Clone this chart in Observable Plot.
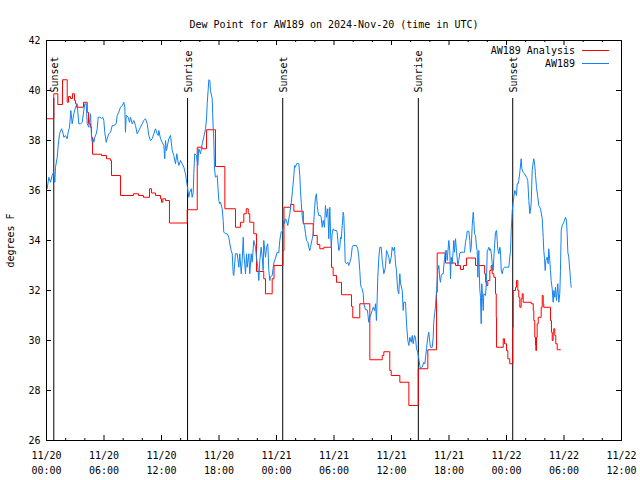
<!DOCTYPE html>
<html>
<head>
<meta charset="utf-8">
<script src="https://cdn.jsdelivr.net/npm/d3@7"></script>
<script src="https://cdn.jsdelivr.net/npm/@observablehq/plot@0.6"></script>
<style>
  html, body { margin: 0; padding: 0; background: white; }
</style>
</head>
<body>
<div id="chart"></div>
<script>
// ---------- data (hours after 2024-11-20 00:00 UTC) ----------
const titleText = "Dew Point for AW189 on 2024-Nov-20 (time in UTC)";
const yLabel = "degrees F";
const seriesNames = ["AW189 Analysis", "AW189"];
const seriesColors = ["#ff0000", "#1482f0"];

const analysisHours = [0.00,0.76,1.18,1.67,2.16,2.30,2.50,2.71,2.92,3.03,3.13,3.86,4.25,4.38,4.59,4.70,4.80,5.74,6.26,6.68,6.78,7.72,9.08,9.60,10.12,10.75,10.96,11.37,11.90,12.00,12.14,12.42,12.83,14.68,15.73,16.25,16.70,17.63,18.61,19.72,20.24,20.59,20.84,21.05,21.21,21.63,21.91,22.67,22.85,23.55,23.74,24.68,24.78,25.46,25.81,26.79,27.83,28.25,28.52,28.94,29.74,29.91,30.26,30.78,31.83,31.96,32.69,33.74,35.03,35.20,35.82,35.97,36.87,37.81,38.79,39.79,40.70,40.77,41.63,42.68,43.20,43.51,43.83,44.77,45.72,45.82,45.92,46.05,46.26,46.40,46.51,46.68,46.85,46.93,46.96,47.66,47.79,48.00,48.14,48.34,48.66,48.70,48.94,49.04,49.18,49.28,49.39,49.53,49.64,49.74,50.58,50.79,50.85,50.95,51.03,51.06,51.13,51.20,51.31,51.62,51.73,51.83,51.89,52.59,52.69,52.77,52.87,52.93,53.04,53.14,53.29,53.63];
const analysisValues = [38.87,39.87,39.44,40.43,39.53,39.76,39.68,39.87,39.60,39.47,39.33,39.53,39.13,38.67,38.53,38.13,37.45,37.40,37.27,37.20,36.60,35.80,35.87,35.80,35.73,36.07,35.90,35.80,35.67,35.53,35.67,35.60,34.70,35.23,37.73,37.67,38.43,36.96,35.27,34.53,34.73,35.07,35.27,35.07,34.73,34.27,32.76,32.47,31.87,32.47,33.00,33.60,35.33,35.44,35.17,34.67,34.20,33.84,33.67,33.73,32.93,32.60,32.33,31.83,31.36,30.91,31.47,29.23,29.40,29.55,28.80,28.60,28.33,27.40,28.87,29.63,31.93,33.50,33.10,33.00,32.84,33.00,33.30,33.00,32.67,32.33,32.20,32.40,32.80,33.00,32.67,32.53,31.87,30.93,29.73,30.07,29.87,29.60,29.27,29.07,30.53,32.00,32.13,32.40,32.00,31.73,31.33,31.67,31.87,31.53,31.47,31.20,30.80,30.13,29.80,29.60,30.13,30.67,30.93,31.33,31.80,31.47,31.33,30.80,30.33,30.00,30.33,30.47,30.20,29.87,29.63,29.63];

const stationHours = [0.07,0.24,0.42,0.59,0.76,0.87,0.94,1.12,1.22,1.36,1.57,1.70,1.81,1.98,2.16,2.26,2.40,2.54,2.68,2.85,3.03,3.20,3.37,3.55,3.73,3.89,4.00,4.14,4.25,4.41,4.59,4.70,4.77,4.87,4.94,5.04,5.19,5.29,5.39,5.53,5.74,5.87,5.98,6.08,6.23,6.33,6.50,6.68,6.86,7.02,7.27,7.38,7.54,7.72,7.90,8.07,8.17,8.24,8.32,8.53,8.66,8.77,8.94,9.11,9.29,9.46,9.63,9.81,9.99,10.15,10.33,10.51,10.67,10.85,11.03,11.20,11.37,11.55,11.66,11.72,11.90,12.07,12.24,12.34,12.42,12.52,12.76,12.94,13.12,13.28,13.46,13.60,13.70,13.81,13.98,14.16,14.33,14.50,14.68,14.85,14.95,15.10,15.20,15.31,15.37,15.47,15.65,15.79,15.89,16.07,16.25,16.41,16.59,16.70,16.77,16.94,17.04,17.11,17.29,17.39,17.46,17.53,17.63,17.81,17.98,18.08,18.16,18.33,18.44,18.50,18.68,18.86,19.02,19.13,19.27,19.38,19.48,19.54,19.72,19.90,20.07,20.17,20.32,20.42,20.53,20.59,20.77,20.87,20.94,21.11,21.21,21.36,21.46,21.63,21.81,21.91,22.05,22.15,22.26,22.40,22.51,22.61,22.67,22.85,22.96,23.09,23.20,23.30,23.37,23.55,23.72,23.90,24.07,24.24,24.34,24.49,24.59,24.70,24.76,24.83,24.94,25.04,25.18,25.28,25.39,25.53,25.67,25.81,25.88,25.98,26.09,26.22,26.33,26.43,26.50,26.58,26.68,26.79,26.92,27.03,27.13,27.27,27.37,27.48,27.55,27.62,27.73,27.83,27.89,27.97,28.07,28.17,28.25,28.31,28.41,28.59,28.66,28.77,28.87,29.01,29.11,29.22,29.35,29.46,29.56,29.63,29.71,29.81,29.92,30.05,30.26,30.33,30.40,30.50,30.61,30.68,30.75,30.86,30.96,31.02,31.10,31.17,31.30,31.44,31.54,31.65,31.79,31.90,32.00,32.35,32.48,32.59,32.69,32.77,32.84,32.94,33.05,33.11,33.29,33.46,33.53,33.63,33.74,33.88,33.99,34.09,34.23,34.33,34.43,34.51,34.57,34.68,34.78,34.93,35.03,35.20,35.37,35.48,35.61,35.72,35.82,35.97,36.07,36.18,36.31,36.42,36.52,36.60,36.66,36.76,36.87,36.94,37.12,37.22,37.28,37.46,37.57,37.70,37.81,37.91,38.06,38.16,38.26,38.40,38.50,38.61,38.74,38.85,38.95,39.03,39.20,39.37,39.48,39.58,39.65,39.79,39.89,40.00,40.07,40.25,40.35,40.41,40.52,40.59,40.70,40.83,40.94,41.04,41.11,41.19,41.29,41.40,41.46,41.53,41.63,41.74,41.81,41.88,41.98,42.08,42.16,42.23,42.33,42.44,42.50,42.57,42.68,42.78,42.92,43.02,43.13,43.27,43.48,43.62,43.72,43.83,43.90,44.07,44.17,44.24,44.32,44.42,44.53,44.59,44.66,44.77,44.87,44.94,45.01,45.11,45.21,45.29,45.36,45.42,45.50,45.57,45.63,45.81,45.91,45.99,46.05,46.15,46.26,46.33,46.40,46.51,46.61,46.68,46.85,46.96,47.03,47.09,47.20,47.30,47.37,47.45,47.55,47.66,47.79,48.00,48.24,48.34,48.42,48.49,48.60,48.70,48.76,48.87,48.94,49.04,49.12,49.22,49.28,49.39,49.53,49.60,49.74,49.88,50.09,50.22,50.33,50.43,50.50,50.58,50.68,50.79,50.85,50.95,51.03,51.13,51.27,51.37,51.55,51.73,51.83,51.89,51.97,52.04,52.10,52.25,52.35,52.41,52.52,52.59,52.66,52.77,52.87,52.94,53.04,53.11,53.22,53.35,53.46,53.56,53.63,53.71,53.81,53.98,54.16,54.26,54.33,54.40,54.50,54.61,54.68,54.75];
const stationValues = [36.07,36.53,36.33,36.6,36.73,36.33,36.93,37.33,37.8,38.27,38.47,38.33,38.13,38.2,38.07,38.33,38.53,39.2,38.67,39.07,39.33,39.47,38.67,38.67,38.73,39.2,39.47,39.47,38.67,38.53,39.07,38.13,37.93,38.07,37.93,38.13,38.27,38.47,38.93,38.93,38.89,38.93,38.8,38.33,37.93,38.07,38.27,38.33,38.6,38.6,38.67,39.0,39.13,39.33,39.4,39.53,39.33,38.33,39.0,38.93,38.73,38.93,38.67,38.8,38.6,38.27,38.4,38.53,38.67,38.8,38.87,38.67,38.2,38.0,38.07,38.27,38.47,38.27,38.2,38.4,38.07,37.93,37.8,37.27,38.0,37.6,38.07,38.2,37.6,37.4,37.07,37.47,37.2,37.0,37.2,37.07,36.93,36.67,36.2,35.73,35.93,36.07,35.73,35.93,36.67,37.47,37.4,37.0,37.67,37.47,37.87,38.13,38.47,38.87,39.47,40.43,40.4,40.0,39.67,38.53,38.0,36.87,36.53,36.6,35.6,35.47,35.53,35.27,34.8,34.33,34.27,34.27,34.13,33.87,33.6,33.47,32.67,32.6,33.47,33.47,32.93,33.47,32.67,33.2,34.13,33.47,32.67,33.47,32.93,33.47,32.67,33.47,33.13,34.0,33.73,33.33,32.93,32.4,33.2,33.73,33.33,32.8,34.0,33.33,33.73,33.87,32.8,32.4,32.55,32.6,33.1,33.3,33.53,33.5,34.0,34.35,34.35,34.5,34.8,34.67,34.87,34.8,34.6,34.87,35.07,35.47,36.0,36.6,37.0,36.93,37.07,37.09,37.07,36.6,36.0,35.53,35.0,34.73,34.6,34.27,34.0,33.93,33.73,33.6,33.73,33.87,34.07,34.27,34.73,35.27,35.73,35.87,35.4,35.2,35.0,35.0,34.93,34.53,34.8,34.53,35.4,34.93,35.27,34.07,35.33,34.47,33.73,34.27,34.47,34.4,34.4,34.33,34.0,33.6,33.73,34.13,34.07,34.6,35.13,35.0,34.13,33.13,33.07,33.13,33.0,33.13,33.33,33.73,33.8,33.8,33.67,33.33,32.8,32.27,32.13,32.07,31.87,31.47,31.23,31.23,31.07,30.73,30.93,31.07,31.2,31.33,31.2,31.47,30.8,31.73,32.53,33.33,33.73,33.73,33.2,32.67,32.93,33.6,33.47,33.33,33.07,33.33,33.73,33.6,33.73,33.07,32.8,32.27,32.0,31.87,32.67,32.3,32.0,31.2,31.53,31.53,30.67,30.0,29.8,30.13,29.93,30.2,29.87,30.2,30.13,29.67,29.53,29.27,29.0,28.87,28.93,29.13,29.07,29.4,29.67,30.13,30.33,29.93,29.73,29.73,30.13,30.73,31.13,31.4,32.0,32.8,33.0,32.47,32.33,32.6,32.67,32.67,33.0,33.27,33.6,33.6,33.2,33.53,34.0,33.6,32.47,33.33,33.07,33.6,34.0,33.53,34.07,33.6,33.0,33.2,33.5,33.53,33.53,33.53,33.93,34.13,34.37,34.37,34.0,33.53,33.73,34.6,35.13,34.8,34.27,34.2,33.73,33.6,32.53,33.6,32.07,31.73,30.67,32.27,31.73,31.2,31.87,31.8,32.4,33.6,33.6,33.73,33.6,33.67,33.53,33.07,32.8,33.33,34.33,34.4,34.0,33.67,33.47,33.73,33.6,32.8,32.67,32.87,32.93,32.93,32.93,33.33,33.6,34.4,35.2,35.53,35.73,36.0,35.93,35.8,36.27,36.27,36.4,36.73,37.27,36.87,36.73,36.67,36.53,36.4,35.6,35.07,35.2,35.53,36.8,37.13,37.27,37.0,36.6,36.13,35.73,35.4,35.27,34.87,34.13,33.6,33.27,32.8,33.2,33.33,33.07,33.67,33.2,32.8,32.4,32.07,31.53,32.0,31.73,32.13,31.6,32.27,31.53,31.87,32.8,34.4,34.6,34.73,34.93,34.8,34.27,33.53,33.33,32.8,32.4,32.13];

const eventHours = [0.76, 14.72, 24.65, 38.80, 48.65];
const eventLabels = ["Sunset", "Sunrise", "Sunset", "Sunrise", "Sunset"];

const yTicks = [26, 28, 30, 32, 34, 36, 38, 40, 42];
const xMajorHours = [0, 6, 12, 18, 24, 30, 36, 42, 48, 54, 60];
const xMinorHours = [2, 4, 8, 10, 14, 16, 20, 22, 26, 28, 32, 34, 38, 40, 44, 46, 50, 52, 56, 58];
const xDomainHours = [0, 60];

// ---------- build tables ----------
const base = Date.UTC(2024, 10, 20);
const toDate = h => new Date(base + h * 3600000);
const analysis = analysisHours.map((h, i) => ({time: toDate(h), value: analysisValues[i]}));
const station = stationHours.map((h, i) => ({time: toDate(h), value: stationValues[i]}));
const events = eventHours.map((h, i) => ({time: toDate(h), label: eventLabels[i]}));
const xMajor = xMajorHours.map(toDate);
const xMinor = xMinorHours.map(toDate);

const W = 640, H = 480, mL = 46, mR = 19, mT = 40, mB = 40;
const fw = W - mL - mR, fh = H - mT - mB;

const chart = Plot.plot({
  width: W, height: H,
  marginLeft: mL, marginRight: mR, marginTop: mT, marginBottom: mB,
  style: {fontFamily: "'DejaVu Sans Mono', monospace", fontSize: "10px", background: "white", color: "black", overflow: "visible"},
  x: {type: "utc", domain: xDomainHours.map(toDate)},
  y: {domain: [26, 42]},
  marks: [
    // gnuplot-style inward ticks on all four sides
    Plot.tickY(yTicks, {y: d => d, insetRight: fw - 5, stroke: "black"}),
    Plot.tickY(yTicks, {y: d => d, insetLeft: fw - 5, stroke: "black"}),
    Plot.tickX(xMajor, {x: d => d, insetTop: fh - 5, stroke: "black"}),
    Plot.tickX(xMajor, {x: d => d, insetBottom: fh - 5, stroke: "black"}),
    Plot.tickX(xMinor, {x: d => d, insetTop: fh - 2, stroke: "black"}),
    Plot.tickX(xMinor, {x: d => d, insetBottom: fh - 2, stroke: "black"}),
    Plot.axisY({ticks: yTicks, tickSize: 0, tickPadding: 6, label: yLabel, labelAnchor: "center", labelOffset: 40, labelArrow: "none"}),
    Plot.axisX({ticks: xMajor, tickSize: 0, tickPadding: 8, tickFormat: d3.utcFormat("%m/%d\n%H:%M"), lineHeight: 1.5, label: null}),
    // sunrise / sunset markers
    Plot.ruleX(events, {x: "time", insetTop: 58, stroke: "black", strokeWidth: 1}),
    Plot.text(events, {x: "time", text: "label", frameAnchor: "top", rotate: -90, textAnchor: "start", dy: 52, dx: -3, fill: "black"}),
    // data
    Plot.line(analysis, {x: "time", y: "value", stroke: seriesColors[0], strokeWidth: 1, curve: "step-after"}),
    Plot.line(station, {x: "time", y: "value", stroke: seriesColors[1], strokeWidth: 1}),
    Plot.frame({stroke: "black"}),
    Plot.text([titleText], {text: d => d, frameAnchor: "top", dy: -20, fill: "black"})
  ]
});

// legend (gnuplot key, top right inside the frame)
const svg = d3.select(chart);
const key = svg.append("g").attr("font-family", "'DejaVu Sans Mono', monospace").attr("font-size", 10);
seriesNames.forEach((name, i) => {
  const y = mT + 10.5 + i * 13;
  key.append("text").attr("x", 575).attr("y", y).attr("dy", "0.32em").attr("text-anchor", "end").attr("fill", "black").text(name);
  key.append("line").attr("x1", 582).attr("x2", 609).attr("y1", y).attr("y2", y)
    .attr("stroke", seriesColors[i]).attr("stroke-width", 1);
});

document.getElementById("chart").appendChild(chart);
</script>
</body>
</html>
